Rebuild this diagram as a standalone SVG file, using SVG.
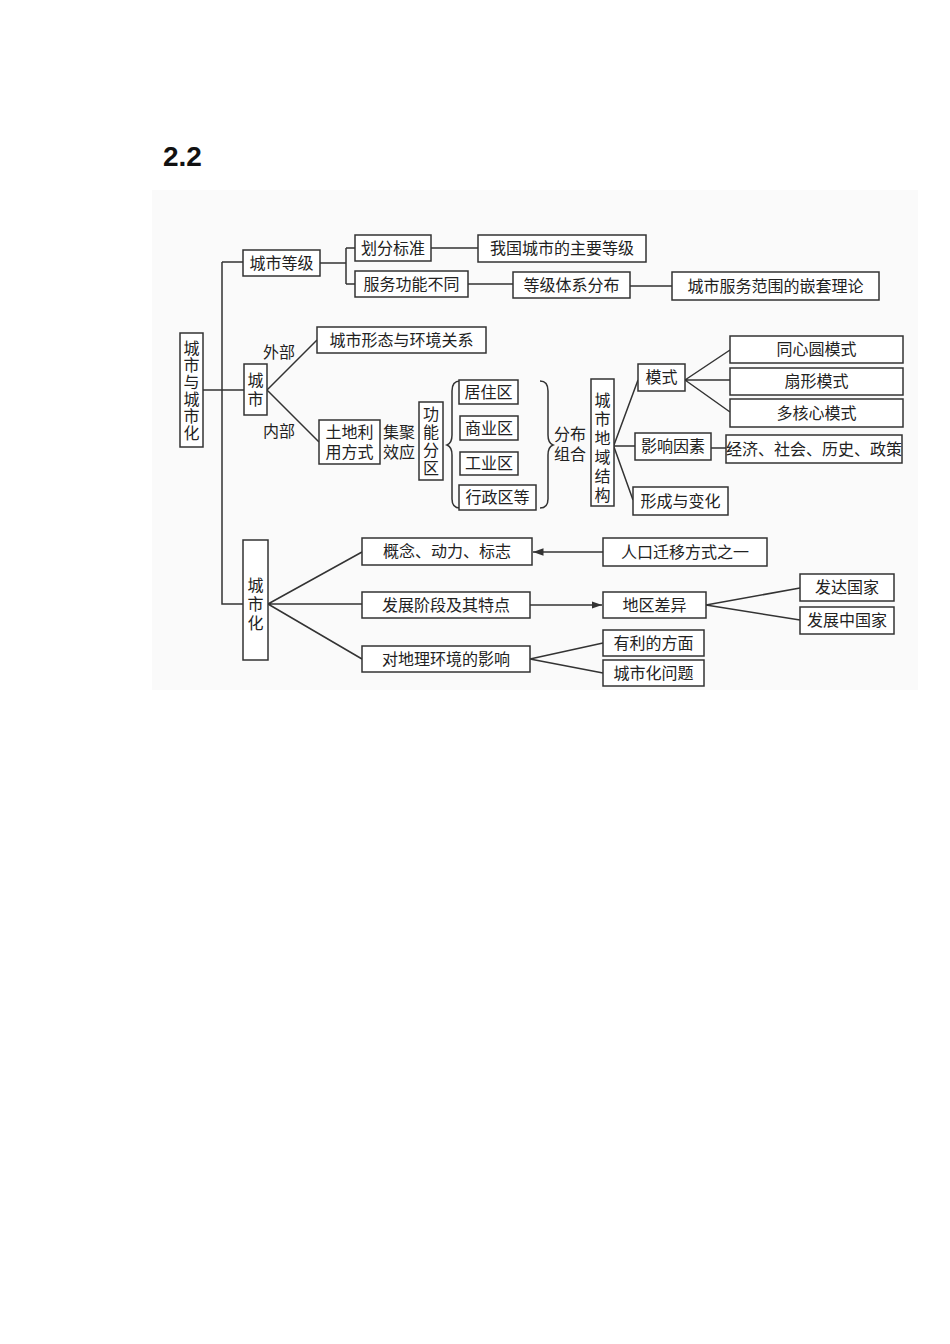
<svg xmlns="http://www.w3.org/2000/svg" width="950" height="1344" viewBox="0 0 950 1344">
<style>
.b{fill:#fff;stroke:#333;stroke-width:1.5}
.t{font-family:"Liberation Serif","Noto Sans CJK SC",serif;font-size:16px;fill:#222;text-anchor:middle;dominant-baseline:central}
.l{fill:none;stroke:#333;stroke-width:1.5}
</style>
<defs><marker id="a" markerWidth="8" markerHeight="8" refX="7" refY="4" orient="auto"><path d="M0,1.5L7,4L0,6.5z" fill="#333"/></marker></defs>
<rect width="950" height="1344" fill="#fff"/>
<rect x="152" y="190" width="766" height="500" fill="#fafafa"/>
<text x="163" y="166" style="font-family:'Liberation Sans',sans-serif;font-size:28px;font-weight:bold" fill="#111">2.2</text>
<g id="connectors">
<path class="l" d="M203,390H244M222,262V604H243M222,262H243"/>
<path class="l" d="M320,263H346M346,248V284M346,248H355M346,284H355M431,248H478M468,284H513M630,286H672"/>
<path class="l" d="M267,390L317,340M267,390L319,442"/>
<path class="l" d="M460,381q-8,0 -8,10v44q0,8 -5,10q5,2 5,10v44q0,9 8,9"/>
<path class="l" d="M540,381q8,0 8,10v44q0,8 5,10q-5,2 -5,10v44q0,9 -8,9"/>
<path class="l" d="M614,445L638,380M614,446H635M614,447L633,500M711,448H726"/>
<path class="l" d="M685,380L730,350M685,380H730M685,380L730,412"/>
<path class="l" d="M268,604L362,552M268,604H362M268,604L362,659"/>
<path class="l" d="M603,552H533" marker-end="url(#a)"/>
<path class="l" d="M530,605H602" marker-end="url(#a)"/>
<path class="l" d="M706,605L800,588M706,605L800,620M530,659L603,643M530,659L603,673"/>
</g>
<g id="n1"><rect class="b" x="180" y="333" width="23" height="114"/><text class="t" x="191.5" y="348">城</text><text class="t" x="191.5" y="365">市</text><text class="t" x="191.5" y="382">与</text><text class="t" x="191.5" y="399">城</text><text class="t" x="191.5" y="416">市</text><text class="t" x="191.5" y="433">化</text></g>
<g id="n2"><rect class="b" x="243" y="250" width="77" height="26"/><text class="t" x="281.5" y="263">城市等级</text></g>
<g id="n3"><rect class="b" x="355" y="235" width="76" height="26"/><text class="t" x="393" y="248">划分标准</text></g>
<g id="n4"><rect class="b" x="355" y="271" width="113" height="26"/><text class="t" x="411.5" y="284">服务功能不同</text></g>
<g id="n5"><rect class="b" x="478" y="235" width="168" height="27"/><text class="t" x="562" y="248.5">我国城市的主要等级</text></g>
<g id="n6"><rect class="b" x="513" y="272" width="117" height="26"/><text class="t" x="571.5" y="285">等级体系分布</text></g>
<g id="n7"><rect class="b" x="672" y="272" width="207" height="28"/><text class="t" x="775.5" y="286">城市服务范围的嵌套理论</text></g>
<g id="n8"><rect class="b" x="244" y="364" width="23" height="51"/><text class="t" x="255.5" y="380">城</text><text class="t" x="255.5" y="399">市</text></g>
<text class="t" x="279" y="352">外部</text>
<text class="t" x="279" y="431">内部</text>
<g id="n9"><rect class="b" x="317" y="327" width="169" height="26"/><text class="t" x="401.5" y="340">城市形态与环境关系</text></g>
<g id="n10"><rect class="b" x="319" y="420" width="61" height="44"/><text class="t" x="349.5" y="432">土地利</text><text class="t" x="349.5" y="452">用方式</text></g>
<text class="t" x="399" y="432">集聚</text><text class="t" x="399" y="452">效应</text>
<g id="n11"><rect class="b" x="419" y="402" width="24" height="78"/><text class="t" x="431" y="414">功</text><text class="t" x="431" y="432">能</text><text class="t" x="431" y="450">分</text><text class="t" x="431" y="468">区</text></g>
<g id="n12"><rect class="b" x="459" y="380" width="59" height="24"/><text class="t" x="488.5" y="392">居住区</text></g>
<g id="n13"><rect class="b" x="460" y="416" width="58" height="24"/><text class="t" x="489" y="428">商业区</text></g>
<g id="n14"><rect class="b" x="460" y="452" width="58" height="23"/><text class="t" x="489" y="463.5">工业区</text></g>
<g id="n15"><rect class="b" x="459" y="485" width="77" height="25"/><text class="t" x="497.5" y="497.5">行政区等</text></g>
<text class="t" x="570" y="434">分布</text><text class="t" x="570" y="454">组合</text>
<g id="n16"><rect class="b" x="591" y="379" width="23" height="127"/><text class="t" x="602.5" y="400">城</text><text class="t" x="602.5" y="419">市</text><text class="t" x="602.5" y="438">地</text><text class="t" x="602.5" y="457">域</text><text class="t" x="602.5" y="476">结</text><text class="t" x="602.5" y="495">构</text></g>
<g id="n17"><rect class="b" x="638" y="364" width="47" height="27"/><text class="t" x="661.5" y="377.5">模式</text></g>
<g id="n18"><rect class="b" x="730" y="336" width="173" height="27"/><text class="t" x="816.5" y="349.5">同心圆模式</text></g>
<g id="n19"><rect class="b" x="730" y="368" width="173" height="27"/><text class="t" x="816.5" y="381.5">扇形模式</text></g>
<g id="n20"><rect class="b" x="730" y="399" width="173" height="28"/><text class="t" x="816.5" y="413">多核心模式</text></g>
<g id="n21"><rect class="b" x="635" y="433" width="76" height="27"/><text class="t" x="673" y="446.5">影响因素</text></g>
<g id="n22"><rect class="b" x="726" y="435" width="176" height="28"/><text class="t" x="814" y="449">经济、社会、历史、政策</text></g>
<g id="n23"><rect class="b" x="633" y="487" width="95" height="28"/><text class="t" x="680.5" y="501">形成与变化</text></g>
<g id="n24"><rect class="b" x="243" y="540" width="25" height="120"/><text class="t" x="255.5" y="585">城</text><text class="t" x="255.5" y="604">市</text><text class="t" x="255.5" y="623">化</text></g>
<g id="n25"><rect class="b" x="362" y="538" width="170" height="27"/><text class="t" x="447" y="551.5">概念、动力、标志</text></g>
<g id="n26"><rect class="b" x="603" y="538" width="164" height="28"/><text class="t" x="685" y="552">人口迁移方式之一</text></g>
<g id="n27"><rect class="b" x="362" y="592" width="168" height="26"/><text class="t" x="446" y="605">发展阶段及其特点</text></g>
<g id="n28"><rect class="b" x="603" y="592" width="103" height="26"/><text class="t" x="654.5" y="605">地区差异</text></g>
<g id="n29"><rect class="b" x="800" y="574" width="94" height="27"/><text class="t" x="847" y="587.5">发达国家</text></g>
<g id="n30"><rect class="b" x="800" y="607" width="94" height="27"/><text class="t" x="847" y="620.5">发展中国家</text></g>
<g id="n31"><rect class="b" x="362" y="646" width="168" height="26"/><text class="t" x="446" y="659">对地理环境的影响</text></g>
<g id="n32"><rect class="b" x="603" y="630" width="101" height="26"/><text class="t" x="653.5" y="643">有利的方面</text></g>
<g id="n33"><rect class="b" x="603" y="660" width="101" height="26"/><text class="t" x="653.5" y="673">城市化问题</text></g>
</svg>
